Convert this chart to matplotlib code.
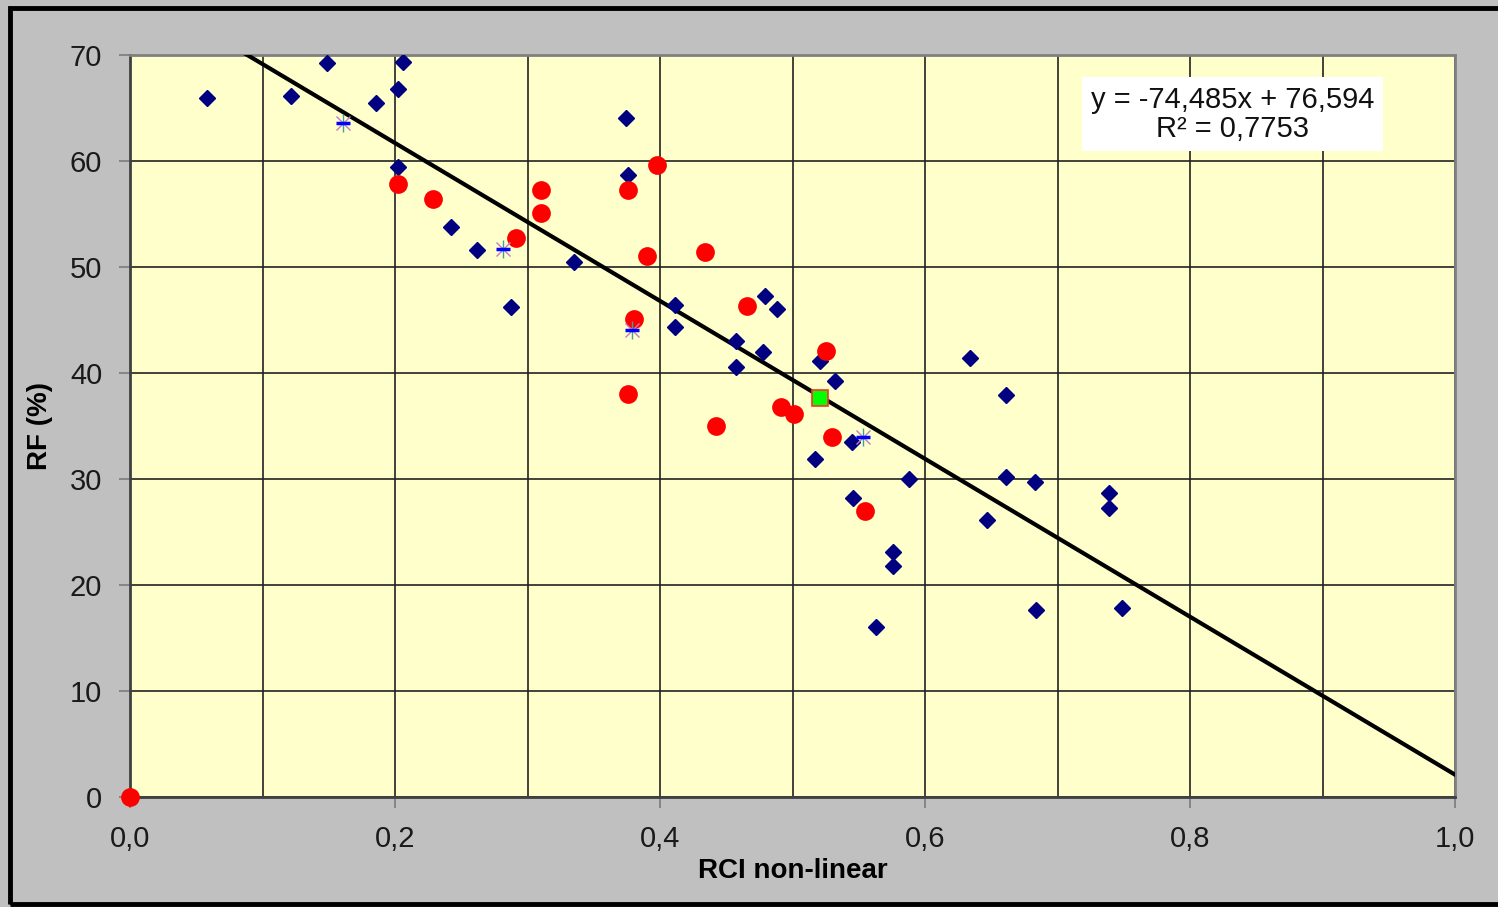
import numpy as np
import matplotlib
matplotlib.use("Agg")
import matplotlib.pyplot as plt
from matplotlib.patches import Rectangle

plt.rcParams['font.family'] = ['Liberation Sans', 'DejaVu Sans']

# blue diamonds
blue_x = [0.058, 0.1215, 0.149, 0.186, 0.202, 0.206, 0.202, 0.242, 0.262, 0.2875,
          0.335, 0.374, 0.376, 0.411, 0.411, 0.457, 0.457, 0.479, 0.488, 0.478,
          0.521, 0.532, 0.517, 0.545, 0.546, 0.576, 0.576, 0.563, 0.588, 0.634,
          0.661, 0.661, 0.647, 0.683, 0.684, 0.739, 0.739, 0.749]
blue_y = [65.9, 66.1, 69.2, 65.5, 66.8, 69.3, 59.4, 53.8, 51.6, 46.2,
          50.5, 64.1, 58.7, 46.4, 44.3, 43.0, 40.6, 47.3, 46.0, 42.0,
          41.1, 39.2, 31.9, 33.5, 28.2, 23.1, 21.8, 16.0, 30.0, 41.4,
          37.9, 30.2, 26.1, 29.7, 17.6, 28.7, 27.3, 17.8]

# red circles
red_x = [0.202, 0.229, 0.291, 0.310, 0.310, 0.376, 0.398, 0.390, 0.434, 0.380,
         0.376, 0.466, 0.525, 0.491, 0.501, 0.442, 0.530, 0.555, 0.0]
red_y = [57.8, 56.4, 52.7, 57.3, 55.1, 57.3, 59.6, 51.0, 51.4, 45.1,
         38.0, 46.3, 42.1, 36.8, 36.1, 35.0, 34.0, 27.0, 0.0]

# asterisk markers
star_x = [0.161, 0.2815, 0.379, 0.553]
star_y = [63.6, 51.7, 44.1, 34.0]

# green square
green_x = [0.521]
green_y = [37.6]

slope = -74.485
intercept = 76.594
r2 = 0.7753

fig = plt.figure(figsize=(14.98, 9.07), dpi=100)
fig.patch.set_facecolor('#C0C0C0')

# black frame around the chart (left, top, bottom)
fig.patches.append(Rectangle((10 / 1498, 3 / 907), 1.2, 1 - 11 / 907,
                             transform=fig.transFigure, fill=False,
                             edgecolor='black', linewidth=3.5, zorder=10))

ax = fig.add_axes([130 / 1498, 1 - 797 / 907, 1325 / 1498, 742 / 907])
ax.set_facecolor('#FFFFCC')
ax.set_xlim(0, 1.0)
ax.set_ylim(0, 70)

ax.set_xticks(np.arange(0, 1.01, 0.2))
ax.set_xticks(np.arange(0.1, 1.0, 0.2), minor=True)
ax.set_yticks(np.arange(0, 71, 10))
ax.set_xticklabels([f"{v:.1f}".replace('.', ',') for v in np.arange(0, 1.01, 0.2)])
ax.grid(True, which='both', color='#222222', linewidth=1.2)
ax.set_axisbelow(True)

ax.tick_params(axis='both', which='major', labelsize=21, colors='#808080',
               labelcolor='#1a1a1a', length=8, width=1.3, direction='out')
ax.tick_params(axis='x', which='major', pad=12)
ax.tick_params(axis='y', which='major', pad=12)
ax.tick_params(axis='x', which='minor', length=0)

for s in ax.spines.values():
    s.set_color('#808080')
    s.set_linewidth(2)
ax.spines['left'].set_color('#404040')
ax.spines['bottom'].set_color('#404040')

# trend line
xl = np.array([0.0, 1.0])
ax.plot(xl, slope * xl + intercept, color='black', linewidth=3, zorder=3)

ax.plot(blue_x, blue_y, linestyle='none', marker='D', markersize=8,
        color='#000080', zorder=4)
ax.plot(red_x, red_y, linestyle='none', marker='o', markersize=13.5,
        color='#FF0000', markeredgewidth=0, zorder=5, clip_on=False)
ax.plot(star_x, star_y, linestyle='none', marker='x', markersize=10,
        markeredgecolor='#C080C0', markeredgewidth=1, zorder=5)
ax.plot(star_x, star_y, linestyle='none', marker='|', markersize=13,
        markeredgecolor='#40A0A0', markeredgewidth=1, zorder=5)
ax.plot(star_x, star_y, linestyle='none', marker='_', markersize=10,
        markeredgecolor='#0000FF', markeredgewidth=2.5, zorder=6)
ax.plot(green_x, green_y, linestyle='none', marker='s', markersize=11.5,
        markerfacecolor='#00FF00', markeredgecolor='#FF3030',
        markeredgewidth=1.2, zorder=6)

ax.text(0.832, 64.4,
        f"y = {slope:.3f}x + {intercept:.3f}".replace('.', ',') + "\n"
        + f"R\u00b2 = {r2:.4f}".replace('.', ','),
        ha='center', va='center', fontsize=21, color='#111111',
        linespacing=1.05, zorder=7,
        bbox=dict(facecolor='white', edgecolor='none', pad=6))

ax.set_xlabel('RCI non-linear', fontsize=20, fontweight='bold', labelpad=4)
ax.set_ylabel('RF (%)', fontsize=20, fontweight='bold', labelpad=12)

fig.savefig('out.png', dpi=100, facecolor=fig.get_facecolor())
